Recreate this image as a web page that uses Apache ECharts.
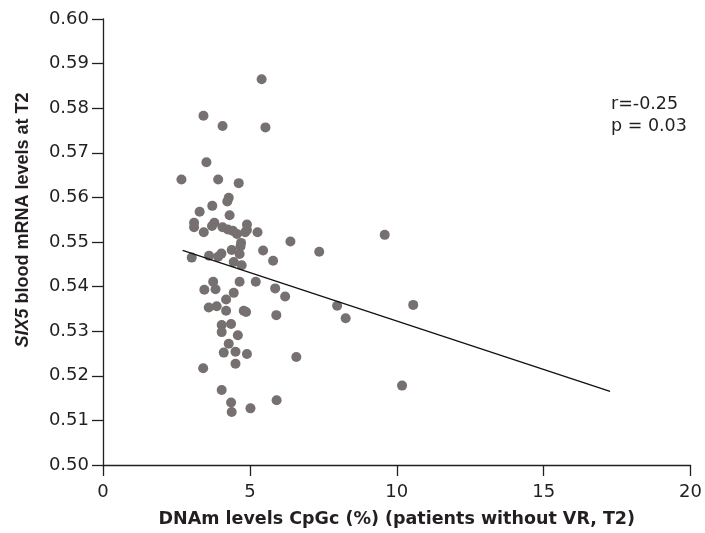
<!DOCTYPE html>
<html>
<head>
<meta charset="utf-8">
<script src="https://cdn.jsdelivr.net/npm/echarts@6/dist/echarts.min.js"></script>
<style>html,body{margin:0;padding:0;background:#fff}#c{width:705px;height:533px}</style>
</head>
<body>
<div id="c"></div>
<script>
var xValues = [5.40,3.42,4.07,5.53,3.52,2.67,3.92,4.62,4.28,4.23,3.72,3.29,4.31,
  3.10,3.10,3.79,3.71,3.43,4.07,4.25,4.42,4.56,4.90,4.90,4.84,5.26,4.70,4.68,4.38,4.65,4.03,3.92,3.61,3.02,4.45,4.72,5.45,5.79,6.38,7.36,
  4.65,5.20,3.75,3.45,3.83,4.45,5.86,6.20,4.19,3.60,3.87,4.19,4.87,4.79,5.90,7.97,4.04,4.36,
  4.04,4.59,4.28,4.11,4.51,4.90,4.51,3.41,6.58,4.04,4.36,4.38,5.02,5.91,
  9.59,8.26,10.56,10.18];
var yValues = [0.5865,0.5783,0.5760,0.5757,0.5679,0.5640,0.5640,0.5632,0.5599,0.5591,0.5581,0.5568,0.5560,
  0.5543,0.5533,0.5543,0.5536,0.5522,0.5533,0.5528,0.5525,0.5518,0.5539,0.5527,0.5522,0.5522,0.5498,0.5490,0.5482,0.5473,0.5474,0.5467,0.5469,0.5465,0.5455,0.5448,0.5481,0.5458,0.5501,0.5478,
  0.5411,0.5411,0.5411,0.5393,0.5394,0.5386,0.5396,0.5378,0.5371,0.5353,0.5356,0.5346,0.5343,0.5346,0.5336,0.5357,0.5314,0.5316,
  0.5298,0.5291,0.5272,0.5252,0.5254,0.5249,0.5227,0.5217,0.5242,0.5168,0.5140,0.5119,0.5127,0.5145,
  0.5516,0.5329,0.5359,0.5178];
var fitX = [2.71, 17.26];
var fitY = [0.5481, 0.5165];
var xTicks = [0, 5, 10, 15, 20];
var yTicks = [0.50,0.51,0.52,0.53,0.54,0.55,0.56,0.57,0.58,0.59,0.60];
var statsText = ['r=-0.25', 'p = 0.03'];
var xTitle = 'DNAm levels CpGc (%) (patients without VR, T2)';
var yTitleGene = 'SIX5';
var yTitleRest = ' blood mRNA levels at T2';

var pts = xValues.map(function(x, i){ return [x, yValues[i]]; });
var fitPts = fitX.map(function(x, i){ return [x, fitY[i]]; });
var tickFont = '"DejaVu Sans", sans-serif';
var ink = '#231f20';

var chart = echarts.init(document.getElementById('c'), null, {renderer: 'canvas'});
chart.setOption({
  animation: false,
  backgroundColor: '#fff',
  grid: {left: 103, right: 13, top: 19, bottom: 66, containLabel: false},
  xAxis: {
    type: 'value', min: xTicks[0], max: xTicks[xTicks.length-1], interval: 5,
    splitLine: {show: false},
    axisLine: {onZero: false, lineStyle: {color: ink, width: 1.3}},
    axisTick: {show: true, length: 11, lineStyle: {color: ink, width: 1.3}},
    axisLabel: {color: ink, fontSize: 18, fontFamily: tickFont, margin: 18},
    name: xTitle,
    nameLocation: 'middle', nameGap: 45,
    nameTextStyle: {color: ink, fontSize: 17.5, fontWeight: 'bold', fontFamily: tickFont}
  },
  yAxis: {
    type: 'value', min: yTicks[0], max: yTicks[yTicks.length-1], interval: 0.01,
    splitLine: {show: false},
    axisLine: {onZero: false, lineStyle: {color: ink, width: 1.3}},
    axisTick: {show: true, length: 11, lineStyle: {color: ink, width: 1.3}},
    axisLabel: {color: ink, fontSize: 18, fontFamily: tickFont, margin: 14,
      formatter: function(v){ return v.toFixed(2); }}
  },
  series: [
    {type: 'scatter', data: pts, symbolSize: 10,
      itemStyle: {color: '#767070', opacity: 1}, z: 2},
    {type: 'line', data: fitPts, showSymbol: false, symbol: 'none',
      lineStyle: {color: '#111', width: 1.3}, z: 3}
  ],
  graphic: [
    {type: 'text', left: 611, top: 93,
      style: {text: statsText.join('\n'), font: '17.5px "DejaVu Sans", sans-serif', fill: ink, lineHeight: 22.5}},
    {type: 'text', x: 23, y: 220, rotation: Math.PI / 2,
      style: {
        text: '{i|' + yTitleGene + '}{n|' + yTitleRest + '}',
        align: 'center', verticalAlign: 'middle',
        rich: {
          i: {fontStyle: 'italic', fontWeight: 'bold', fontSize: 18, fontFamily: '"Liberation Sans", Arial, sans-serif', fill: ink},
          n: {fontWeight: 'bold', fontSize: 18, fontFamily: '"Liberation Sans", Arial, sans-serif', fill: ink}
        }
      }}
  ]
});
</script>
</body>
</html>
